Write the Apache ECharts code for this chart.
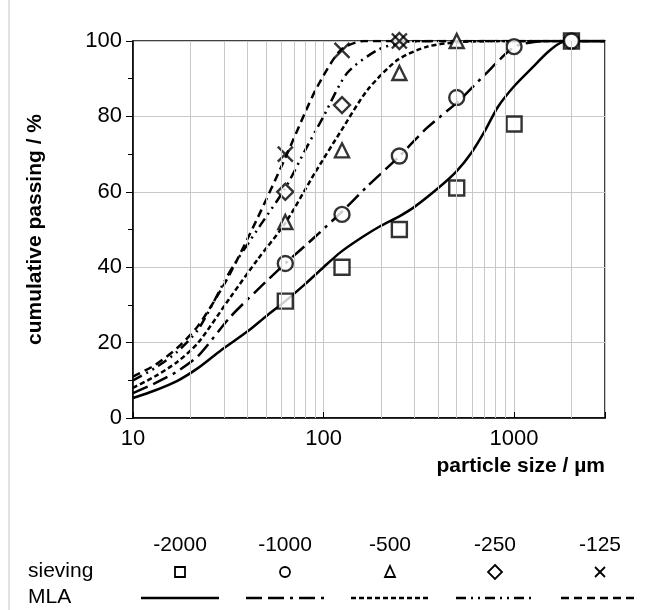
<!DOCTYPE html>
<html>
<head>
<meta charset="utf-8">
<script src="https://cdn.jsdelivr.net/npm/echarts@6/dist/echarts.min.js"></script>
<style>html,body{margin:0;background:#fff}#c{width:645px;height:610px}</style>
</head>
<body>
<div id="c"></div>
<script>
// sieve sizes (µm)
const sieveSizes = [63, 125, 250, 500, 1000, 2000];
const fractions = ['-2000', '-1000', '-500', '-250', '-125'];
// sieving results, cumulative passing %
const sieve2000 = [31, 40, 50, 61, 78, 100];
const sieve1000 = [41, 54, 69.5, 85, 98.5, 100];
const sieve500 = [52, 71, 91.5, 100];
const sieve250 = [60, 83, 100];
const sieve125 = [70, 97.5, 100];
// MLA curves [size, passing]
const mla2000 = [[10, 5.3], [13, 7.3], [17, 9.8], [22, 13.3], [29, 18], [40, 23], [50, 27], [63, 31], [80, 35.5], [100, 40], [123, 44], [160, 48], [200, 51], [250, 53.5], [300, 56], [400, 61], [500, 65.5], [600, 70.5], [700, 76], [822, 82.5], [1000, 88], [1250, 93], [1500, 97], [1750, 99.5], [2000, 100], [3000, 100]];
const mla1000 = [[10, 6.6], [13, 9.2], [17, 12.3], [22, 16.5], [32.4, 26.8], [45, 34], [63, 41], [90, 48], [123, 54.4], [170, 61.5], [245, 69], [350, 77], [510, 84], [700, 91], [1000, 98.4], [1300, 99.8], [1600, 100], [3000, 100]];
const mla500 = [[10, 8], [13, 11], [17, 14.8], [22, 20], [32.4, 32], [45, 42], [63, 51.7], [90, 65], [123, 76], [170, 87], [245, 95], [350, 98.5], [510, 99.7], [800, 100], [3000, 100]];
const mla250 = [[10, 10], [13, 13.2], [17, 17.5], [22, 23.5], [32.4, 39], [45, 50], [63, 61], [80, 71], [100, 80], [133, 91.5], [192, 97.6], [264, 99.7], [400, 100], [3000, 100]];
const mla125 = [[10, 11], [13, 14], [17, 18.5], [22, 24.5], [31, 36.6], [45, 53], [63, 69], [80, 81], [93, 88], [123, 97.6], [163, 100], [3000, 100]];
const minorGrid = [20, 30, 40, 50, 60, 70, 80, 90, 200, 300, 400, 500, 600, 700, 800, 900, 2000];

const crossPath = 'path://M0,0L10,10M10,0L0,10';
const symbols = ['rect', 'circle', 'triangle', 'diamond', crossPath];
const sizes = [15, 15, 14, 16, 15];
const dashes = ['solid', [16, 6, 16, 6, 3, 6], [5, 3], [10, 5, 2, 5, 2, 5], [8, 5]];
const sieves = [sieve2000, sieve1000, sieve500, sieve250, sieve125];
const mlas = [mla2000, mla1000, mla500, mla250, mla125];

const series = [];
mlas.forEach((d, i) => {
  series.push({
    type: 'line', data: d, smooth: 0.25, symbol: 'none', z: 3,
    lineStyle: { color: '#000', width: 2.5, type: dashes[i] },
    markLine: i === 0 ? {
      silent: true, symbol: 'none', label: { show: false },
      lineStyle: { color: '#c8c8c8', width: 1, type: 'solid' },
      data: minorGrid.map(v => ({ xAxis: v }))
    } : undefined
  });
});
sieves.forEach((d, i) => {
  series.push({
    type: 'scatter', z: 4,
    data: d.map((v, j) => [sieveSizes[j], v]),
    symbol: symbols[i], symbolSize: sizes[i],
    itemStyle: { color: i === 4 ? '#000' : '#fff', borderColor: '#000', borderWidth: 2.4 }
  });
});

// legend table built as graphics
const cols = [180, 285, 390, 495, 600];
const font = '21px Arial, Liberation Sans';
const graphic = [
  { type: 'line', shape: { x1: 9, y1: 0, x2: 9, y2: 610 }, style: { stroke: '#d9d9d9', lineWidth: 1.5 } },
  { type: 'text', x: 28, y: 571, style: { text: 'sieving', font: font, fill: '#000', verticalAlign: 'middle' } },
  { type: 'text', x: 28, y: 597, style: { text: 'MLA', font: font, fill: '#000', verticalAlign: 'middle' } }
];
fractions.forEach((f, i) => {
  graphic.push({ type: 'text', x: cols[i], y: 545, style: { text: f, font: font, fill: '#000', align: 'center', verticalAlign: 'middle' } });
  graphic.push({ type: 'line', shape: { x1: cols[i] - 39, y1: 598, x2: cols[i] + 39, y2: 598 }, style: { stroke: '#000', lineWidth: 2.5, lineDash: dashes[i] === 'solid' ? null : dashes[i] } });
});
// legend markers
const mk = { stroke: '#000', lineWidth: 1.8, fill: '#fff' };
const my = 572;
graphic.push({ type: 'rect', shape: { x: cols[0] - 5, y: my - 5, width: 10, height: 10 }, style: mk });
graphic.push({ type: 'circle', shape: { cx: cols[1], cy: my, r: 5 }, style: mk });
graphic.push({ type: 'polygon', shape: { points: [[cols[2], my - 6], [cols[2] + 5, my + 5], [cols[2] - 5, my + 5]] }, style: mk });
graphic.push({ type: 'polygon', shape: { points: [[cols[3], my - 7], [cols[3] + 7, my], [cols[3], my + 7], [cols[3] - 7, my]] }, style: mk });
graphic.push({ type: 'polyline', shape: { points: [[cols[4] - 5, my - 5], [cols[4] + 5, my + 5]] }, style: { stroke: '#000', lineWidth: 1.8 } });
graphic.push({ type: 'polyline', shape: { points: [[cols[4] + 5, my - 5], [cols[4] - 5, my + 5]] }, style: { stroke: '#000', lineWidth: 1.8 } });

const chart = echarts.init(document.getElementById('c'), null, { renderer: 'canvas' });
chart.setOption({
  animation: false,
  grid: { left: 133, right: 40, top: 41, bottom: 192, show: true, borderColor: '#000', borderWidth: 1.5, backgroundColor: 'transparent' },
  xAxis: {
    type: 'log', logBase: 10, min: 10, max: 3000,
    name: 'particle size / µm', nameLocation: 'end', nameGap: 0,
    nameTextStyle: { fontSize: 21, fontWeight: 'bold', color: '#000', fontFamily: 'Arial, Liberation Sans', align: 'right', verticalAlign: 'top', padding: [38, 0, 0, 0] },
    axisLine: { lineStyle: { color: '#000', width: 1.5 } },
    axisTick: { show: true, length: -6, lineStyle: { color: '#000' } },
    axisLabel: { fontSize: 22, color: '#000', fontFamily: 'Arial, Liberation Sans', margin: 10, formatter: v => (v >= 3000 ? '' : v) },
    splitLine: { show: true, lineStyle: { color: '#c8c8c8', width: 1 } }
  },
  yAxis: {
    type: 'value', min: 0, max: 100, interval: 20,
    name: 'cumulative passing / %', nameLocation: 'middle', nameGap: 87,
    nameTextStyle: { fontSize: 21, fontWeight: 'bold', color: '#000', fontFamily: 'Arial, Liberation Sans' },
    axisLine: { show: true, lineStyle: { color: '#000', width: 1.5 } },
    axisTick: { show: true, length: 7, lineStyle: { color: '#000' } },
    minorTick: { show: true, splitNumber: 2, length: 5, lineStyle: { color: '#000' } },
    axisLabel: { fontSize: 22, color: '#000', fontFamily: 'Arial, Liberation Sans', margin: 11 },
    splitLine: { show: true, lineStyle: { color: '#c8c8c8', width: 1 } }
  },
  series: series,
  graphic: graphic
});
</script>
</body>
</html>
